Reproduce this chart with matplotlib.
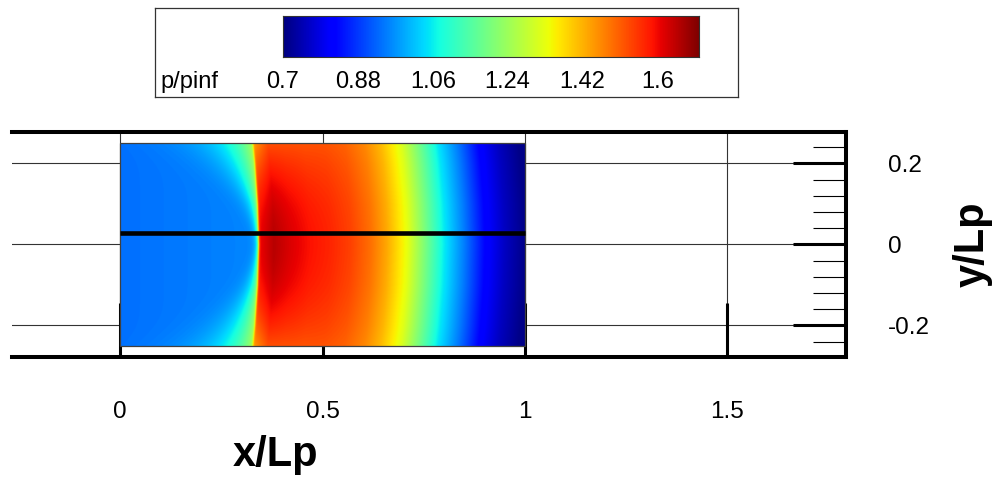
import numpy as np
import matplotlib
matplotlib.use("Agg")
import matplotlib.pyplot as plt
from matplotlib.patches import Rectangle
from matplotlib.ticker import FixedLocator

plt.rcParams['font.family'] = ['Liberation Sans', 'DejaVu Sans']

# ---- data -------------------------------------------------------------
# pressure level ahead of the shock along x/Lp
x_pre = [0.0, 0.15, 0.30]
p_pre = [0.935, 0.945, 0.955]
# shock position x/Lp as a function of |y/Lp|
y_shock = [0.0, 0.10, 0.20, 0.25]
x_shock = [0.343, 0.340, 0.333, 0.328]
# centerline pressure behind the shock
x_post = [0.343, 0.38, 0.42, 0.47, 0.52, 0.57, 0.62, 0.66, 0.71, 0.75,
          0.80, 0.85, 0.90, 0.95, 1.00]
p_post = [1.60, 1.65, 1.62, 1.59, 1.57, 1.54, 1.49, 1.43, 1.33, 1.21,
          1.06, 0.95, 0.83, 0.76, 0.71]
# compression ahead of the shock and weakening near the side walls
pre_rise = 0.30
wall_drop = 0.16

# extraction line
line_y = 0.027

# colour legend
cb_min, cb_max = 0.7, 1.7
cb_ticks = [0.7, 0.88, 1.06, 1.24, 1.42, 1.6]
cb_title = "p/pinf"

x_ticks = [0, 0.5, 1, 1.5]
x_ticklabels = ["0", "0.5", "1", "1.5"]
y_ticks = [-0.2, 0, 0.2]
y_ticklabels = ["-0.2", "0", "0.2"]

# ---- field ------------------------------------------------------------
nx, ny = 1000, 500
xg = np.linspace(0, 1, nx)
yg = np.linspace(-0.25, 0.25, ny)
X, Y = np.meshgrid(xg, yg)
eta = (Y / 0.25) ** 2
xs = np.interp(np.abs(Y), y_shock, x_shock)
s = X - xs

w = 0.006 + 0.064 * eta
p_up = np.interp(X, x_pre, p_pre) + pre_rise * np.exp(np.minimum(s, 0) / w)
p_dn = np.interp(s + x_shock[0], x_post, p_post) \
    - wall_drop * eta * np.exp(-np.maximum(s, 0) / 0.15)
blend = 0.5 * (1 + np.tanh(s / 0.0025))
P = (1 - blend) * p_up + blend * p_dn

# ---- figure -----------------------------------------------------------
W, H = 994, 479
fig = plt.figure(figsize=(W / 100, H / 100), dpi=100)

x0, x1 = -0.2667, 1.7926
y0, y1 = -0.278, 0.278
ax = fig.add_axes([12 / W, 1 - 357 / H, (846 - 12) / W, (357 - 131.7) / H])
ax.set_xlim(x0, x1)
ax.set_ylim(y0, y1)

ax.imshow(P, extent=[0, 1, -0.25, 0.25], origin='lower', cmap='jet',
          vmin=cb_min, vmax=cb_max, interpolation='bilinear',
          aspect='auto', zorder=3)
ax.add_patch(Rectangle((0, -0.25), 1, 0.5, fill=False, edgecolor='#404040',
                       lw=0.9, zorder=4))
ax.plot([0, 1], [line_y, line_y], color='black', lw=3.3, zorder=5,
        solid_capstyle='butt')

# frame
ax.spines['left'].set_visible(False)
for side in ('top', 'bottom', 'right'):
    ax.spines[side].set_linewidth(2.9)
    ax.spines[side].set_zorder(6)

# grid
for xv in x_ticks:
    ax.axvline(xv, color='#333333', lw=0.8, zorder=1)
for yv in y_ticks:
    ax.axhline(yv, color='#333333', lw=0.8, zorder=1)

ax.set_xticks(x_ticks)
ax.set_xticklabels(x_ticklabels)
ax.yaxis.tick_right()
ax.set_yticks(y_ticks)
ax.set_yticklabels(y_ticklabels)
ax.yaxis.set_minor_locator(FixedLocator(
    [v for v in np.arange(-0.24, 0.2401, 0.04) if abs(v / 0.2 - round(v / 0.2)) > 1e-6]))
ax.tick_params(axis='x', which='major', direction='in', length=39, width=2.2,
               pad=32, labelsize=17.5, top=False)
ax.tick_params(axis='y', which='major', direction='in', length=38, width=2.2,
               pad=30, labelsize=17.5, left=False, right=True)
ax.tick_params(axis='y', which='minor', direction='in', length=24, width=0.8,
               left=False, right=True)
for t in ax.yaxis.get_majorticklabels():
    t.set_horizontalalignment('left')

fig.text(275 / W, 1 - 466 / H, "x/Lp", fontsize=30, fontweight='bold',
         ha='center', va='baseline')
fig.text(973 / W, 1 - 244 / H, "y/Lp", fontsize=30, fontweight='bold',
         ha='center', va='center', rotation=90)

# colour legend box
lg = fig.add_axes([155 / W, 1 - 97 / H, (738 - 155) / W, (97 - 8) / H])
lg.set_xticks([])
lg.set_yticks([])
for sp in lg.spines.values():
    sp.set_linewidth(0.9)
    sp.set_color('#333333')

cb = fig.add_axes([283 / W, 1 - 57 / H, 416 / W, 41 / H])
grad = np.linspace(cb_min, cb_max, 512)[None, :]
cb.imshow(grad, extent=[cb_min, cb_max, 0, 1], aspect='auto', cmap='jet',
          vmin=cb_min, vmax=cb_max)
cb.set_xlim(cb_min, cb_max)
cb.set_ylim(0, 1)
cb.set_xticks([])
cb.set_yticks([])
for sp in cb.spines.values():
    sp.set_linewidth(0.8)
    sp.set_color('#333333')
for v in cb_ticks:
    cb.text(v, -(82 - 57) / 41, f"{v:g}", transform=cb.get_xaxis_transform(),
            ha='center', va='center', fontsize=17)
fig.text(160 / W, 1 - 82 / H, cb_title, ha='left', va='center', fontsize=17)

fig.savefig("out.png", dpi=100)
